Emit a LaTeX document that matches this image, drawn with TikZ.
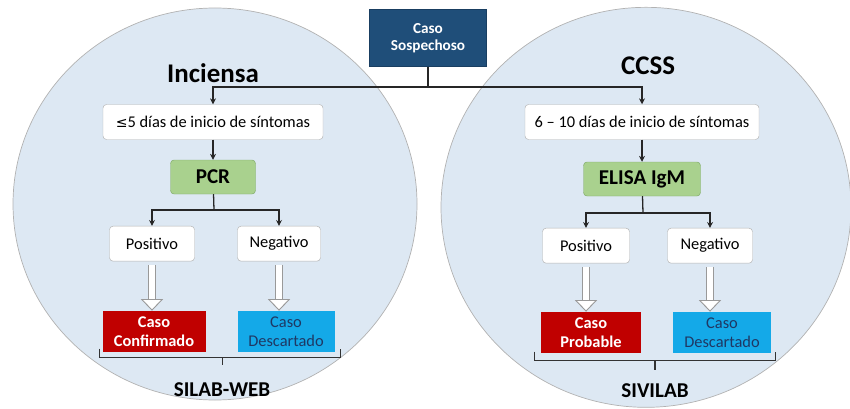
\documentclass[tikz,border=0pt]{standalone}
\usepackage{fontspec}
\setmainfont{Carlito}
\usepackage{amssymb}
\usepackage{xcolor}
\usepackage{tikz}
\usetikzlibrary{arrows.meta}

\definecolor{azulOsc}{HTML}{1F4E79}
\definecolor{circulo}{HTML}{DDE8F3}
\definecolor{verde}{HTML}{A9D18E}
\definecolor{verdeBorde}{HTML}{7FA968}
\definecolor{rojo}{HTML}{C00000}
\definecolor{celeste}{HTML}{14A9E8}
\definecolor{textoAzul}{HTML}{1F3864}

\begin{document}
\begin{tikzpicture}[node distance=2cm,
    caja/.style={draw=gray!60, rectangle, rounded corners=3pt, fill=white, minimum height=1.05cm, font=\fontsize{14}{16}\selectfont},
    prueba/.style={draw=verdeBorde, rectangle, rounded corners=3pt, fill=verde, minimum height=1.02cm, font=\fontsize{18}{20}\selectfont\bfseries},
    res/.style={rectangle, minimum height=1.24cm, align=center, font=\fontsize{14}{15.5}\selectfont},
    flecha/.style={draw=black!85, line width=1.1pt, -{Stealth[length=5pt,width=5pt]}},
    hueca/.style={draw=gray!80, line width=0.8pt, double=white, double distance=5.5pt, -{Triangle[fill=white,length=10pt,width=19pt]}},
    corchete/.style={draw=black!80, line width=1pt},
    titulo/.style={font=\fontsize{23}{25}\selectfont\bfseries}]
      \useasboundingbox (0,0) rectangle (25.5,-12.24);

      % circulos
      \draw[fill=circulo, draw=gray!60, line width=0.6pt] (6.45,-6.12) ellipse (6.06cm and 5.88cm);
      \draw[fill=circulo, draw=gray!60, line width=0.6pt] (19.38,-6.22) ellipse (6.15cm and 6.0cm);

      \node (caso) [rectangle, fill=azulOsc, draw=azulOsc!80!black, minimum width=3.51cm, minimum height=1.71cm, align=center, text=white, font=\fontsize{13}{15}\selectfont\bfseries] at (12.84,-1.14) {Caso\\Sospechoso};

      \node (inciensa) [titulo] at (6.39,-2.19) {Inciensa};
      \node (ccss) [titulo] at (19.44,-1.98) {CCSS};

      % Inciensa
      \node (diasL) [caja, minimum width=6.6cm] at (6.39,-3.66) {{\fontspec{DejaVu Sans}\fontsize{12}{14}\selectfont ≤}5 días de inicio de síntomas};
      \node (pcr) [prueba, minimum width=2.55cm, below of=diasL, yshift=0.35cm] {PCR};
      \node (posL) [caja, minimum width=2.55cm, below of=pcr, xshift=-1.83cm] {Positivo};
      \node (negL) [caja, minimum width=2.49cm, below of=pcr, xshift=1.98cm] {Negativo};
      \node (confL) [res, fill=rojo, text=white, minimum width=3.09cm, font=\fontsize{14}{15.5}\selectfont\bfseries, below of=posL, yshift=-0.64cm, xshift=0.06cm] {Caso\\Confirmado};
      \node (descL) [res, fill=celeste, text=textoAzul, minimum width=2.91cm, below of=negL, yshift=-0.64cm, xshift=0.21cm] {Caso\\Descartado};

      % CCSS
      \node (diasR) [caja, minimum width=7.02cm] at (19.26,-3.66) {6 -- 10 días de inicio de síntomas};
      \node (elisa) [prueba, minimum width=3.51cm, below of=diasR, yshift=0.29cm] {ELISA IgM};
      \node (posR) [caja, minimum width=2.61cm, below of=elisa, xshift=-1.68cm] {Positivo};
      \node (negR) [caja, minimum width=2.55cm, below of=elisa, xshift=2.04cm] {Negativo};
      \node (probR) [res, fill=rojo, text=white, minimum width=3.0cm, font=\fontsize{14}{15.5}\selectfont\bfseries, below of=posR, yshift=-0.61cm, xshift=0.15cm] {Caso\\Probable};
      \node (descR) [res, fill=celeste, text=textoAzul, minimum width=2.94cm, below of=negR, yshift=-0.61cm, xshift=0.36cm] {Caso\\Descartado};

      \node (silab) [font=\fontsize{18}{20}\selectfont\bfseries] at (6.66,-11.7) {SILAB-WEB};
      \node (sivilab) [font=\fontsize{18}{20}\selectfont\bfseries] at (19.65,-11.73) {SIVILAB};

      % conectores
      \coordinate (rama) at (12.84,-2.61);
      \coordinate (ramaL) at (6.42,-6.3);
      \coordinate (ramaR) at (19.29,-6.39);
      \draw[flecha, -] (caso) -- (rama);
      \draw[flecha] (rama) -| (diasL.north);
      \draw[flecha] (rama) -| (diasR.north);
      \draw[flecha] (diasL) -- (pcr);
      \draw[flecha] (diasR) -- (elisa);
      \draw[flecha, -] (pcr) -- (ramaL);
      \draw[flecha] (ramaL) -| (posL.north);
      \draw[flecha] (ramaL) -| (negL.north);
      \draw[flecha, -] (elisa) -- (ramaR);
      \draw[flecha] (ramaR) -| (posR.north);
      \draw[flecha] (ramaR) -| (negR.north);

      \draw[hueca, shorten <=3pt] (posL.south) -- (posL.south |- confL.north);
      \draw[hueca, shorten <=3pt] (negL.south) -- (negL.south |- descL.north);
      \draw[hueca, shorten <=3pt] (posR.south) -- (posR.south |- probR.north);
      \draw[hueca, shorten <=3pt] (negR.south) -- (negR.south |- descR.north);

      % corchetes
      \draw[corchete] ([xshift=-0.09cm,yshift=0.12cm]confL.south west) -- ++(0,-0.27) -| ([xshift=0.18cm,yshift=0.12cm]descL.south east);
      \draw[corchete] (6.68,-10.71) -- (6.68,-10.95);
      \draw[corchete] ([xshift=-0.18cm,yshift=0.06cm]probR.south west) -- ++(0,-0.27) -| ([xshift=0.12cm,yshift=0.06cm]descR.south east);
      \draw[corchete] (19.65,-10.83) -- (19.65,-11.1);
    \end{tikzpicture}
\end{document}
